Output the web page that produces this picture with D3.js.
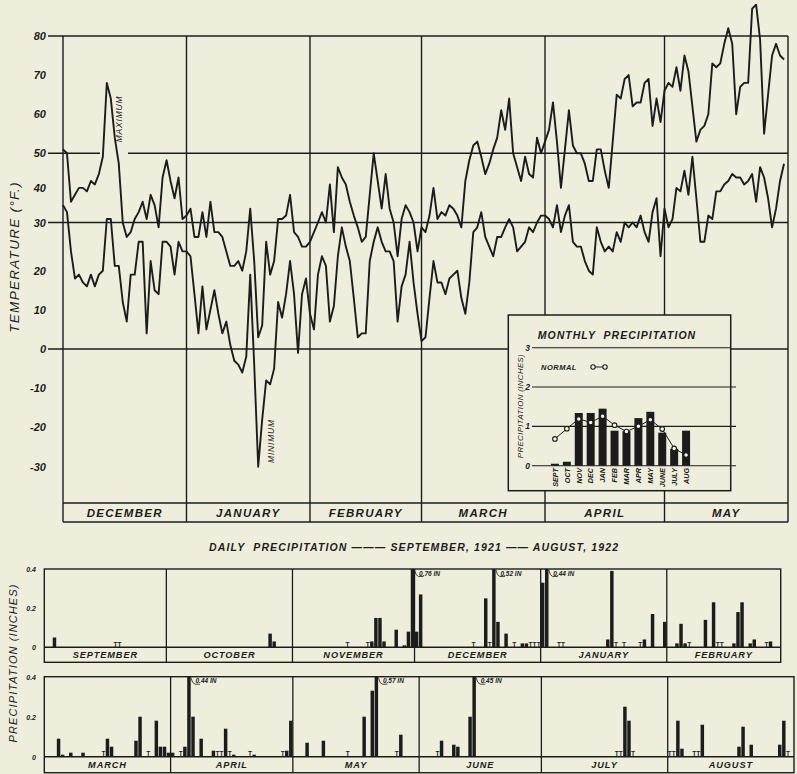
<!DOCTYPE html>
<html>
<head>
<meta charset="utf-8">
<script src="https://cdn.jsdelivr.net/npm/d3@7"></script>
<style>
  html, body { margin: 0; padding: 0; background: #efeedd; }
  svg { display: block; }
  text { font-family: "Liberation Sans", Arial, sans-serif; font-style: italic; fill: #1c1c1c; }
</style>
</head>
<body>
<svg id="chart" width="797" height="774"></svg>
<script>
// daily max / min temperature, Dec 1 1921 - May 31 1922 (deg F)
const tMax = [
  // December
  51, 50, 36, 38, 40, 40, 39, 42, 41, 44, 49, 68, 64, 54, 47, 30, 27, 28, 31, 33, 36, 31, 38, 35, 29, 43, 48, 42, 37, 43, 31,
  // January
  32, 34, 27, 27, 33, 27, 36, 28, 28, 27, 24, 21, 21, 22, 20, 24, 34, 22, 3, 6, 26, 19, 22, 31, 31, 32, 38, 28, 27, 25, 25,
  // February
  26, 28, 30, 33, 30, 41, 28, 46, 43, 41, 36, 32, 29, 26, 27, 38, 50, 42, 34, 44, 34, 30, 23, 31, 35, 33, 30, 24,
  // March
  29, 28, 32, 40, 31, 33, 32, 35, 34, 32, 29, 42, 48, 52, 53, 49, 44, 47, 51, 54, 61, 56, 64, 50, 46, 42, 49, 44, 43, 54, 50,
  // April
  53, 56, 63, 53, 40, 51, 61, 52, 50, 50, 47, 42, 42, 51, 51, 45, 40, 53, 65, 64, 69, 70, 62, 63, 63, 68, 69, 57, 64, 58,
  // May
  66, 68, 67, 72, 66, 75, 71, 62, 53, 56, 57, 60, 73, 72, 73, 78, 82, 78, 60, 67, 68, 68, 87, 88, 79, 55, 65, 75, 78, 75, 74
];
const tMin = [
  35, 33, 24, 18, 19, 17, 16, 19, 16, 19, 20, 31, 31, 21, 21, 12, 7, 19, 19, 26, 26, 4, 22, 15, 14, 26, 26, 25, 19, 26, 24,
  24, 23, 14, 4, 16, 5, 10, 15, 9, 4, 7, 1, -3, -4, -6, -2, 19, -4, -30, -18, -8, -9, -5, 12, 8, 14, 22, 14, -1, 14, 18,
  9, 5, 19, 23, 21, 7, 11, 23, 29, 25, 22, 13, 3, 4, 4, 22, 26, 29, 26, 24, 24, 22, 7, 16, 19, 26, 17, 9,
  2, 3, 13, 22, 17, 17, 14, 18, 19, 20, 13, 9, 17, 28, 29, 33, 27, 25, 23, 27, 27, 29, 31, 29, 24, 25, 26, 29, 28, 30, 32,
  32, 31, 29, 35, 28, 32, 35, 26, 25, 25, 22, 20, 19, 29, 26, 24, 25, 24, 28, 26, 30, 29, 30, 29, 32, 28, 26, 33, 37, 23,
  34, 29, 31, 40, 39, 45, 38, 49, 37, 26, 26, 32, 31, 39, 39, 41, 42, 44, 43, 43, 41, 42, 44, 36, 46, 43, 37, 29, 34, 42, 47
];
const tempTicks = [80, 70, 60, 50, 40, 30, 20, 10, 0, -10, -20, -30];
const tempGrid = [80, 50, 30, 0];

// monthly precipitation (inset)
const monthAbbr = ["SEPT", "OCT", "NOV", "DEC", "JAN", "FEB", "MAR", "APR", "MAY", "JUNE", "JULY", "AUG"];
const monthlyRain = [0.05, 0.10, 1.34, 1.34, 1.45, 0.89, 0.88, 1.21, 1.37, 0.84, 0.43, 0.89];
const normalRain = [0.68, 0.94, 1.19, 1.10, 1.26, 1.03, 0.87, 1.00, 1.17, 0.93, 0.44, 0.27];
const insetTicks = [0, 1, 2, 3];

// daily precipitation, inches
const dailyRain = [
  ["1921-09-03", 0.05],
  ["1921-10-26", 0.07], ["1921-10-27", 0.03],
  ["1921-11-20", 0.03], ["1921-11-21", 0.15], ["1921-11-22", 0.15], ["1921-11-23", 0.03],
  ["1921-11-26", 0.09], ["1921-11-28", 0.01], ["1921-11-29", 0.08], ["1921-11-30", 0.76],
  ["1921-12-01", 0.08], ["1921-12-02", 0.27], ["1921-12-18", 0.25], ["1921-12-20", 0.52],
  ["1921-12-21", 0.13], ["1921-12-23", 0.07], ["1921-12-27", 0.02], ["1921-12-28", 0.02],
  ["1922-01-01", 0.33], ["1922-01-02", 0.44], ["1922-01-17", 0.04], ["1922-01-18", 0.39],
  ["1922-01-26", 0.04], ["1922-01-28", 0.17], ["1922-01-31", 0.13],
  ["1922-02-03", 0.02], ["1922-02-04", 0.12], ["1922-02-05", 0.02], ["1922-02-10", 0.14],
  ["1922-02-12", 0.23], ["1922-02-17", 0.02], ["1922-02-18", 0.18], ["1922-02-19", 0.23],
  ["1922-02-21", 0.02], ["1922-02-22", 0.04], ["1922-02-26", 0.03],
  ["1922-03-04", 0.09], ["1922-03-05", 0.01], ["1922-03-07", 0.02], ["1922-03-10", 0.02],
  ["1922-03-16", 0.09], ["1922-03-17", 0.05], ["1922-03-23", 0.08], ["1922-03-24", 0.20],
  ["1922-03-28", 0.18], ["1922-03-29", 0.05], ["1922-03-30", 0.05], ["1922-03-31", 0.02],
  ["1922-04-01", 0.02], ["1922-04-04", 0.05], ["1922-04-05", 0.44], ["1922-04-06", 0.20],
  ["1922-04-08", 0.09], ["1922-04-11", 0.03], ["1922-04-14", 0.14], ["1922-04-16", 0.01],
  ["1922-04-21", 0.01], ["1922-04-29", 0.03], ["1922-04-30", 0.18],
  ["1922-05-04", 0.07], ["1922-05-08", 0.08], ["1922-05-18", 0.20], ["1922-05-20", 0.33],
  ["1922-05-21", 0.57], ["1922-05-27", 0.11],
  ["1922-06-06", 0.08], ["1922-06-09", 0.06], ["1922-06-10", 0.05], ["1922-06-13", 0.20],
  ["1922-06-14", 0.45],
  ["1922-07-21", 0.25], ["1922-07-22", 0.18],
  ["1922-08-03", 0.18], ["1922-08-04", 0.04], ["1922-08-09", 0.16], ["1922-08-18", 0.05],
  ["1922-08-19", 0.15], ["1922-08-21", 0.06], ["1922-08-28", 0.06], ["1922-08-29", 0.18]
];
const traceDays = [
  "1921-09-18", "1921-09-19", "1921-11-14", "1921-11-19", "1921-12-15", "1921-12-19",
  "1921-12-25", "1921-12-29", "1921-12-30", "1921-12-31", "1922-01-05", "1922-01-06",
  "1922-01-19", "1922-01-21", "1922-01-25", "1922-02-06", "1922-02-13", "1922-02-14",
  "1922-02-25", "1922-03-15", "1922-03-26", "1922-04-03", "1922-04-12", "1922-04-13",
  "1922-04-15", "1922-04-20", "1922-04-28", "1922-05-14", "1922-05-26", "1922-06-05",
  "1922-07-19", "1922-07-20", "1922-07-23", "1922-08-01", "1922-08-02", "1922-08-07",
  "1922-08-08", "1922-08-30"
];
const rainTicks = [0, 0.2, 0.4];

const ink = "#1c1c1c", paper = "#efeedd";
const svg = d3.select("#chart");
svg.append("rect").attr("width", 797).attr("height", 774).attr("fill", paper);

const parse = d3.timeParse("%Y-%m-%d");
const monthName = d3.timeFormat("%B");

// ---------- temperature panel ----------
const L = 63, R = 788, T = 36, B = 503, BAND = 522;
const start = new Date(1921, 11, 1), end = new Date(1922, 5, 1);
const x = d3.scaleTime().domain([start, end]).range([L, R]);
// hand drawn axis is slightly uneven around 30 deg
const y = d3.scaleLinear().domain([-30, 0, 20, 30, 50, 80]).range([466.7, 349, 270.7, 222.5, 153.3, 36]);
const days = d3.range(tMax.length).map(i => d3.timeDay.offset(start, i));
const months = d3.timeMonth.range(start, end);

const main = svg.append("g");

main.selectAll(".grid").data(tempGrid).join("line")
  .attr("x1", 48).attr("x2", R)
  .attr("y1", d => y(d)).attr("y2", d => y(d))
  .attr("stroke", ink).attr("stroke-width", 1.4);

main.selectAll(".mline").data(months.concat([end])).join("line")
  .attr("x1", d => x(d)).attr("x2", d => x(d))
  .attr("y1", T).attr("y2", BAND)
  .attr("stroke", ink).attr("stroke-width", 1.4);

main.append("line").attr("x1", L).attr("x2", R).attr("y1", B).attr("y2", B)
  .attr("stroke", ink).attr("stroke-width", 1.5);
main.append("line").attr("x1", L).attr("x2", R).attr("y1", BAND).attr("y2", BAND)
  .attr("stroke", ink).attr("stroke-width", 1.7);

// small break in the 50 line under the MAXIMUM note
main.append("rect").attr("x", 100).attr("y", 149).attr("width", 28).attr("height", 8).attr("fill", paper);

main.selectAll(".tick").data(tempTicks).join("text")
  .attr("x", 46).attr("y", d => y(d) + 4)
  .attr("text-anchor", "end")
  .attr("font-size", 11).attr("font-weight", 700)
  .text(d => d);

main.append("text")
  .attr("transform", "translate(19,257) rotate(-90)")
  .attr("text-anchor", "middle")
  .attr("font-size", 13.5).attr("letter-spacing", 1.3)
  .text("TEMPERATURE (°F.)");

const line = d3.line().x((d, i) => x(days[i])).y(d => y(d));
main.selectAll(".temp").data([tMax, tMin]).join("path")
  .attr("d", line)
  .attr("fill", "none").attr("stroke", ink)
  .attr("stroke-width", 1.9).attr("stroke-linejoin", "round");

main.append("text")
  .attr("transform", "translate(121.5,119) rotate(-90)")
  .attr("text-anchor", "middle").attr("font-size", 8.5).attr("letter-spacing", 0.8)
  .text("MAXIMUM");
main.append("text")
  .attr("transform", "translate(274,441) rotate(-90)")
  .attr("text-anchor", "middle").attr("font-size", 8.5).attr("letter-spacing", 0.8)
  .text("MINIMUM");

main.selectAll(".mlabel").data(months).join("text")
  .attr("x", d => (x(d) + x(d3.timeMonth.offset(d, 1))) / 2)
  .attr("y", 517)
  .attr("text-anchor", "middle")
  .attr("font-size", 11.5).attr("font-weight", 700).attr("letter-spacing", 1.3)
  .text(d => monthName(d).toUpperCase());

// ---------- monthly precipitation inset ----------
const IL = 508.3, IT = 315, IR = 730.7, IB = 490.7;
const inset = svg.append("g");
inset.append("rect").attr("x", IL).attr("y", IT).attr("width", IR - IL).attr("height", IB - IT)
  .attr("fill", paper).attr("stroke", ink).attr("stroke-width", 1.5);

const xIn = d3.scaleBand().domain(monthAbbr).range([547, 694]).padding(0.33);
const yIn = d3.scaleLinear().domain([0, 3]).range([465.7, 347.7]);

inset.append("text").attr("x", 617).attr("y", 339).attr("text-anchor", "middle")
  .attr("font-size", 10.5).attr("font-weight", 700).attr("letter-spacing", 1)
  .style("white-space", "pre")
  .text("MONTHLY  PRECIPITATION");

inset.selectAll(".ig").data(insetTicks).join("line")
  .attr("x1", 532).attr("x2", d => d === 3 ? IR : 736)
  .attr("y1", d => yIn(d)).attr("y2", d => yIn(d))
  .attr("stroke", ink).attr("stroke-width", 1.1);

inset.selectAll(".it").data(insetTicks).join("text")
  .attr("x", 530).attr("y", d => yIn(d) + 3)
  .attr("text-anchor", "end").attr("font-size", 8.5).attr("font-weight", 700)
  .text(d => d);

inset.append("text")
  .attr("transform", "translate(523,406) rotate(-90)")
  .attr("text-anchor", "middle").attr("font-size", 7.8).attr("letter-spacing", 0.4)
  .text("PRECIPITATION (INCHES)");

inset.selectAll(".bar").data(monthlyRain).join("rect")
  .attr("x", (d, i) => xIn(monthAbbr[i]))
  .attr("width", xIn.bandwidth())
  .attr("y", d => yIn(d))
  .attr("height", d => yIn(0) - yIn(d))
  .attr("fill", ink);

const cx = (d, i) => xIn(monthAbbr[i]) + xIn.bandwidth() / 2;
inset.append("path").datum(normalRain)
  .attr("d", d3.line().x(cx).y(d => yIn(d)))
  .attr("fill", "none").attr("stroke", ink).attr("stroke-width", 1);
inset.selectAll(".norm").data(normalRain).join("circle")
  .attr("cx", cx).attr("cy", d => yIn(d)).attr("r", 2.3)
  .attr("fill", "#f7f6ec").attr("stroke", ink).attr("stroke-width", 1.1);

inset.selectAll(".ml").data(monthAbbr).join("text")
  .attr("transform", d => `translate(${xIn(d) + xIn.bandwidth() / 2 + 2.8},468) rotate(-90)`)
  .attr("text-anchor", "end").attr("font-size", 7.2).attr("font-weight", 700)
  .text(d => d);

inset.append("text").attr("x", 541).attr("y", 370)
  .attr("font-size", 7.5).attr("font-weight", 700).attr("letter-spacing", 0.5)
  .text("NORMAL");
inset.append("line").attr("x1", 593).attr("x2", 605).attr("y1", 367).attr("y2", 367)
  .attr("stroke", ink).attr("stroke-width", 1);
inset.selectAll(".lc").data([593, 605]).join("circle")
  .attr("cx", d => d).attr("cy", 367).attr("r", 2.2)
  .attr("fill", "#f7f6ec").attr("stroke", ink).attr("stroke-width", 1.1);

// ---------- daily precipitation ----------
svg.append("text").attr("x", 414).attr("y", 551).attr("text-anchor", "middle")
  .attr("font-size", 10.5).attr("font-weight", 700).attr("letter-spacing", 1)
  .attr("textLength", 410).attr("lengthAdjust", "spacing")
  .style("white-space", "pre")
  .text("DAILY  PRECIPITATION ——— SEPTEMBER, 1921 —— AUGUST, 1922");

svg.append("text")
  .attr("transform", "translate(17,663) rotate(-90)")
  .attr("text-anchor", "middle").attr("font-size", 11).attr("letter-spacing", 1.1)
  .text("PRECIPITATION (INCHES)");

const rain = dailyRain.map(([d, v]) => ({date: parse(d), v}));
const traces = traceDays.map(parse);

const rows = [
  {from: new Date(1921, 8, 1), to: new Date(1922, 2, 1), left: 44.3, right: 780.7, top: 569, base: 647.3, bottom: 662.3},
  {from: new Date(1922, 2, 1), to: new Date(1922, 8, 1), left: 44.3, right: 794, top: 676.7, base: 756.7, bottom: 772.7}
];
const fmt = d3.format(".2f");

rows.forEach(row => {
  const xs = d3.scaleTime().domain([row.from, row.to]).range([row.left, row.right]);
  const ys = d3.scaleLinear().domain([0, 0.4]).range([row.base, row.top]);
  const g = svg.append("g");
  const inRow = d => d >= row.from && d < row.to;
  const rowMonths = d3.timeMonth.range(row.from, row.to);

  const bars = rain.filter(d => inRow(d.date));
  g.selectAll(".b").data(bars).join("rect")
    .attr("x", d => xs(d.date) + 0.3)
    .attr("width", d => xs(d3.timeDay.offset(d.date, 1)) - xs(d.date) - 0.6)
    .attr("y", d => ys(Math.min(d.v, 0.4)))
    .attr("height", d => row.base - ys(Math.min(d.v, 0.4)))
    .attr("fill", ink);

  const big = bars.filter(d => d.v > 0.4);
  g.selectAll(".lead").data(big).join("path")
    .attr("d", d => {
      const x1 = xs(d3.timeDay.offset(d.date, 1));
      return `M${x1},${row.top + 1} Q${x1 + 1.2},${row.top + 7} ${x1 + 4},${row.top + 7.5} L${x1 + 9},${row.top + 7.5}`;
    })
    .attr("fill", "none").attr("stroke", ink).attr("stroke-width", 0.8);
  g.selectAll(".bl").data(big).join("text")
    .attr("x", d => xs(d3.timeDay.offset(d.date, 1)) + 4.5)
    .attr("y", row.top + 6.5)
    .attr("font-size", 6.5).attr("font-weight", 700)
    .text(d => fmt(d.v) + " IN");

  g.selectAll(".tr").data(traces.filter(inRow)).join("text")
    .attr("x", d => (xs(d) + xs(d3.timeDay.offset(d, 1))) / 2)
    .attr("y", row.base - 0.5)
    .attr("text-anchor", "middle").attr("font-size", 6.5).attr("font-weight", 700)
    .style("font-style", "normal")
    .text("T");

  g.append("rect").attr("x", row.left).attr("y", row.top)
    .attr("width", row.right - row.left).attr("height", row.bottom - row.top)
    .attr("fill", "none").attr("stroke", ink).attr("stroke-width", 1.4);
  g.append("line").attr("x1", row.left).attr("x2", row.right)
    .attr("y1", row.base).attr("y2", row.base)
    .attr("stroke", ink).attr("stroke-width", 1.4);
  g.selectAll(".div").data(rowMonths.slice(1)).join("line")
    .attr("x1", d => xs(d)).attr("x2", d => xs(d))
    .attr("y1", row.top).attr("y2", row.bottom)
    .attr("stroke", ink).attr("stroke-width", 1.3);

  g.selectAll(".ml").data(rowMonths).join("text")
    .attr("x", d => (xs(d) + xs(d3.timeMonth.offset(d, 1))) / 2)
    .attr("y", (row.base + row.bottom) / 2 + 3.5)
    .attr("text-anchor", "middle").attr("font-size", 9.2).attr("letter-spacing", 0.9)
    .attr("font-weight", 600)
    .text(d => monthName(d).toUpperCase());

  g.selectAll(".yt").data(rainTicks).join("text")
    .attr("x", 36).attr("y", d => ys(d) + 3)
    .attr("text-anchor", "end").attr("font-size", 7).attr("font-weight", 700)
    .text(d => d === 0 ? "0" : d);
});
</script>
</body>
</html>
